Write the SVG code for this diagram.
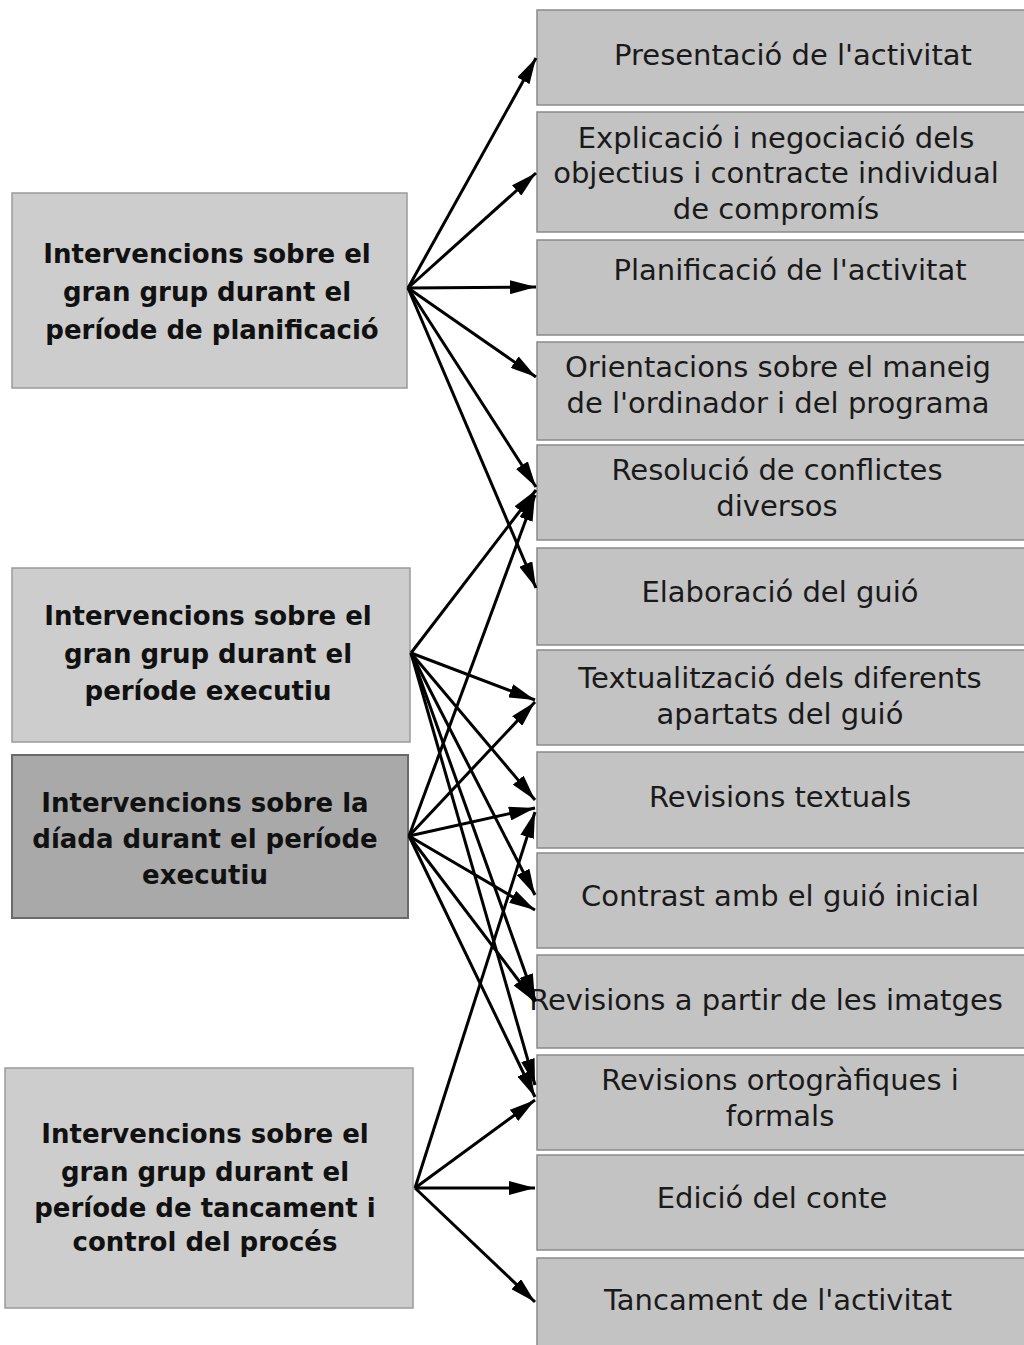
<svg xmlns="http://www.w3.org/2000/svg" width="1024" height="1345" viewBox="0 0 1024 1345">
<style>
.bg{fill:#ffffff}
.rbox{fill:#c3c3c3;stroke:#8a8a8a;stroke-width:1.5}
.lbox{fill:#cdcdcd;stroke:#9a9a9a;stroke-width:1.5}
.dbox{fill:#a9a9a9;stroke:#6a6a6a;stroke-width:2}
.rt{font-family:"DejaVu Sans","Liberation Sans",sans-serif;font-size:29px;fill:#1a1a1a;text-anchor:middle}
.lt{font-family:"DejaVu Sans","Liberation Sans",sans-serif;font-size:26px;font-weight:bold;fill:#111;text-anchor:middle}
.c{stroke:#000;stroke-width:3;fill:none;marker-end:url(#ah)}
</style>
<defs>
<marker id="ah" markerUnits="userSpaceOnUse" markerWidth="26" markerHeight="14" viewBox="0 0 26 14" refX="26" refY="7" orient="auto">
<path d="M0,0 L26,7 L0,14 z" fill="#000"/>
</marker>
</defs>
<rect class="bg" x="0" y="0" width="1024" height="1345"/>

<g id="left-planificacio">
<rect class="lbox" x="12" y="193" width="395" height="195"/>
<text class="lt" x="207" y="263">Intervencions sobre el</text>
<text class="lt" x="207" y="301">gran grup durant el</text>
<text class="lt" x="212" y="339">període de planificació</text>
</g>
<g id="left-executiu">
<rect class="lbox" x="12" y="568" width="398" height="174"/>
<text class="lt" x="208" y="625">Intervencions sobre el</text>
<text class="lt" x="208" y="663">gran grup durant el</text>
<text class="lt" x="208" y="700">període executiu</text>
</g>
<g id="left-diada">
<rect class="dbox" x="12" y="755" width="396" height="163"/>
<text class="lt" x="205" y="812">Intervencions sobre la</text>
<text class="lt" x="205" y="848">díada durant el període</text>
<text class="lt" x="205" y="884">executiu</text>
</g>
<g id="left-tancament">
<rect class="lbox" x="5" y="1068" width="408" height="240"/>
<text class="lt" x="205" y="1143">Intervencions sobre el</text>
<text class="lt" x="205" y="1181">gran grup durant el</text>
<text class="lt" x="205" y="1217">període de tancament i</text>
<text class="lt" x="205" y="1251">control del procés</text>
</g>

<g id="r1"><rect class="rbox" x="537" y="10" width="490" height="95"/><text class="rt" x="793" y="65">Presentació de l'activitat</text></g>
<g id="r2"><rect class="rbox" x="537" y="112" width="490" height="120"/><text class="rt" x="776" y="148">Explicació i negociació dels</text><text class="rt" x="776" y="183">objectius i contracte individual</text><text class="rt" x="776" y="219">de compromís</text></g>
<g id="r3"><rect class="rbox" x="537" y="240" width="490" height="95"/><text class="rt" x="790" y="280">Planificació de l'activitat</text></g>
<g id="r4"><rect class="rbox" x="537" y="342" width="490" height="98"/><text class="rt" x="778" y="377">Orientacions sobre el maneig</text><text class="rt" x="778" y="413">de l'ordinador i del programa</text></g>
<g id="r5"><rect class="rbox" x="537" y="445" width="490" height="95"/><text class="rt" x="777" y="480">Resolució de conflictes</text><text class="rt" x="777" y="516">diversos</text></g>
<g id="r6"><rect class="rbox" x="537" y="548" width="490" height="97"/><text class="rt" x="780" y="602">Elaboració del guió</text></g>
<g id="r7"><rect class="rbox" x="537" y="650" width="490" height="95"/><text class="rt" x="780" y="688">Textualització dels diferents</text><text class="rt" x="780" y="724">apartats del guió</text></g>
<g id="r8"><rect class="rbox" x="537" y="752" width="490" height="96"/><text class="rt" x="780" y="807">Revisions textuals</text></g>
<g id="r9"><rect class="rbox" x="537" y="853" width="490" height="95"/><text class="rt" x="780" y="906">Contrast amb el guió inicial</text></g>
<g id="r10"><rect class="rbox" x="537" y="955" width="490" height="93"/><text class="rt" x="766" y="1010">Revisions a partir de les imatges</text></g>
<g id="r11"><rect class="rbox" x="537" y="1055" width="490" height="95"/><text class="rt" x="780" y="1090">Revisions ortogràfiques i</text><text class="rt" x="780" y="1126">formals</text></g>
<g id="r12"><rect class="rbox" x="537" y="1155" width="490" height="95"/><text class="rt" x="772" y="1208">Edició del conte</text></g>
<g id="r13"><rect class="rbox" x="537" y="1258" width="490" height="90"/><text class="rt" x="778" y="1310">Tancament de l'activitat</text></g>

<g id="connectors">
<line class="c" x1="408" y1="288" x2="536" y2="58"/>
<line class="c" x1="408" y1="288" x2="536" y2="173"/>
<line class="c" x1="408" y1="288" x2="536" y2="287"/>
<line class="c" x1="408" y1="288" x2="536" y2="377"/>
<line class="c" x1="408" y1="288" x2="536" y2="487"/>
<line class="c" x1="408" y1="288" x2="536" y2="588"/>

<line class="c" x1="411" y1="653" x2="536" y2="490"/>
<line class="c" x1="411" y1="653" x2="535" y2="700"/>
<line class="c" x1="411" y1="653" x2="535" y2="800"/>
<line class="c" x1="411" y1="653" x2="535" y2="895"/>
<line class="c" x1="411" y1="653" x2="535" y2="1000"/>
<line class="c" x1="411" y1="653" x2="535" y2="1085"/>

<line class="c" x1="409" y1="836" x2="535" y2="495"/>
<line class="c" x1="409" y1="836" x2="535" y2="702"/>
<line class="c" x1="409" y1="836" x2="535" y2="808"/>
<line class="c" x1="409" y1="836" x2="535" y2="910"/>
<line class="c" x1="409" y1="836" x2="535" y2="1002"/>
<line class="c" x1="409" y1="836" x2="535" y2="1097"/>

<line class="c" x1="415" y1="1188" x2="535" y2="812"/>
<line class="c" x1="415" y1="1188" x2="535" y2="1100"/>
<line class="c" x1="415" y1="1188" x2="535" y2="1188"/>
<line class="c" x1="415" y1="1188" x2="535" y2="1302"/>
</g>
</svg>
